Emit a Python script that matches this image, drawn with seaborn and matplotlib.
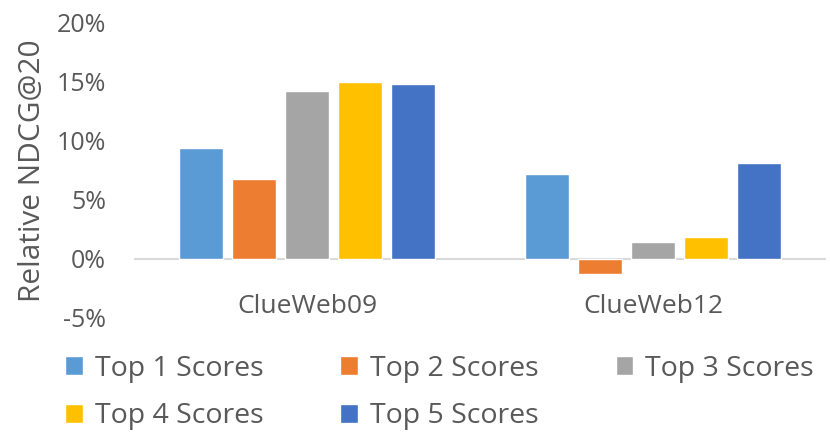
import matplotlib
matplotlib.use("Agg")
import matplotlib.pyplot as plt
import seaborn as sns
import pandas as pd

# values (relative NDCG@20, in %)
datasets = ["ClueWeb09", "ClueWeb12"]
series = ["Top 1 Scores", "Top 2 Scores", "Top 3 Scores", "Top 4 Scores", "Top 5 Scores"]
top1 = [9.4, 7.2]
top2 = [6.8, -1.3]
top3 = [14.2, 1.4]
top4 = [15.0, 1.9]
top5 = [14.8, 8.1]
colors = ["#5B9BD5", "#ED7D31", "#A5A5A5", "#FFC000", "#4472C4"]
yticks = [-5, 0, 5, 10, 15, 20]

rows = []
for name, vals in zip(series, [top1, top2, top3, top4, top5]):
    for ds, v in zip(datasets, vals):
        rows.append({"dataset": ds, "series": name, "value": v})
df = pd.DataFrame(rows)

sns.set_style("white")
plt.rcParams["font.family"] = ["Open Sans", "DejaVu Sans"]
txt = "#595959"

fig = plt.figure(figsize=(8.3, 4.38), dpi=100)
ax = fig.add_axes([0.1614, 0.274, 0.834, 0.6735])

sns.barplot(data=df, x="dataset", y="value", hue="series", hue_order=series,
            palette=colors, saturation=1, width=0.764, gap=0.17, ax=ax, legend=True)

ax.set_ylim(-5, 20)
ax.set_yticks(yticks)
ax.set_yticklabels([f"{t}%" for t in yticks], fontsize=18, color=txt)
ax.set_xlim(-0.5, 1.5)
ax.axhline(0, color="#D9D9D9", lw=1.5, zorder=0)
for s in ax.spines.values():
    s.set_visible(False)
ax.tick_params(axis="both", length=0)
ax.tick_params(axis="y", pad=20)
ax.tick_params(axis="x", pad=-17, labelsize=19, labelcolor=txt)
ax.set_xlabel("")
ax.set_ylabel("Relative NDCG@20", fontsize=21.5, color=txt)
ax.yaxis.set_label_coords(-0.125, 0.5)

handles, labels = ax.get_legend_handles_labels()
ax.get_legend().remove()
# matplotlib fills legend columns first; reorder so rows read 1-2-3 / 4-5
order = [0, 3, 1, 4, 2]
fig.legend([handles[i] for i in order], [labels[i] for i in order], ncol=3,
           loc="upper left", bbox_to_anchor=(0.078, 0.19), borderpad=0, borderaxespad=0,
           frameon=False, fontsize=20.5, labelcolor=txt, handlelength=0.63,
           handleheight=0.63, handletextpad=0.42, columnspacing=2.7, labelspacing=0.69)

fig.savefig("out.png", dpi=100)
